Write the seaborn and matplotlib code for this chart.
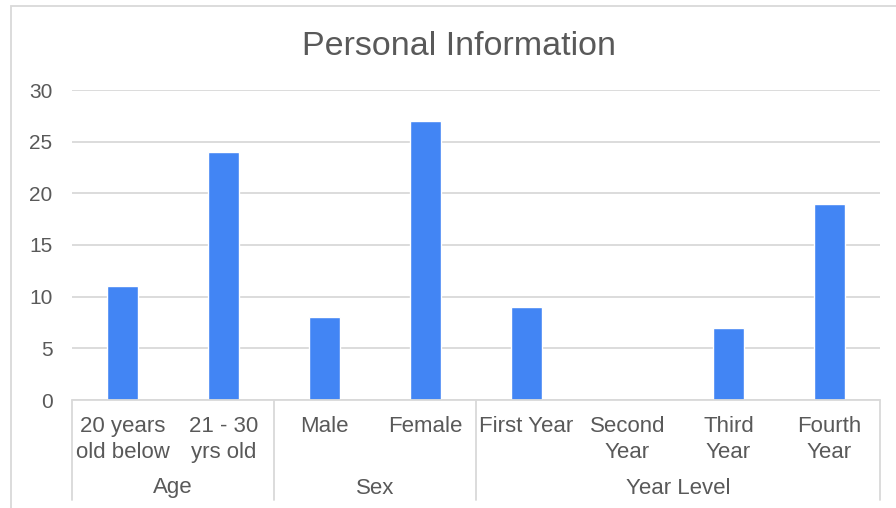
import matplotlib
matplotlib.use("Agg")
import matplotlib.pyplot as plt
import matplotlib.transforms as mtransforms
from matplotlib.patches import Rectangle
import seaborn as sns
import pandas as pd

categories = ["20 years\nold below", "21 - 30\nyrs old", "Male", "Female",
              "First Year", "Second\nYear", "Third\nYear", "Fourth\nYear"]
values = [11, 24, 8, 27, 9, 0, 7, 19]
groups = ["Age", "Sex", "Year Level"]
group_sizes = [2, 2, 4]
yticks = [0, 5, 10, 15, 20, 25, 30]

sns.set_theme(style="white")
plt.rcParams['font.family'] = ['Liberation Sans', 'DejaVu Sans']

text_color = "#595959"
grid_color = "#D9D9D9"
bar_color = "#4285F4"

W, H = 896, 508
fig = plt.figure(figsize=(W / 100, H / 100), dpi=100)
ax = fig.add_axes([72 / W, 1 - 400 / H, (880 - 72) / W, (400 - 90) / H])

df = pd.DataFrame({"cat": categories, "val": values})
sns.barplot(data=df, x="cat", y="val", order=categories, color=bar_color,
            saturation=1, width=0.315, ax=ax)

ax.set_xlim(-0.5, len(categories) - 0.5)
ax.set_ylim(0, 30)
ax.set_yticks(yticks)
ax.set_yticklabels([str(t) for t in yticks], fontsize=15, color=text_color)
ax.tick_params(axis="y", length=0, pad=14)
ax.set_xticks([])
ax.set_xlabel("")
ax.set_ylabel("")
for s in ax.spines.values():
    s.set_visible(False)
ax.yaxis.grid(True, color=grid_color, linewidth=1.3)
ax.set_axisbelow(True)

# Multi-level category axis
trans = mtransforms.blended_transform_factory(ax.transData, fig.transFigure)
y0 = 1 - 400 / H
ybot = 1 - 500 / H
ax.plot([-0.5, len(categories) - 0.5], [y0, y0], transform=trans, color=grid_color,
        lw=1.3, clip_on=False)
bounds = [-0.5]
for n in group_sizes:
    bounds.append(bounds[-1] + n)
for b in bounds:
    ax.plot([b, b], [y0, ybot], transform=trans, color=grid_color, lw=1.3, clip_on=False)

for i, c in enumerate(categories):
    ax.text(i, 1 - 416 / H, c, transform=trans, ha="center", va="top",
            fontsize=16, color=text_color, linespacing=1.3)

for g, a, b in zip(groups, bounds[:-1], bounds[1:]):
    ax.text((a + b) / 2, 1 - 488 / H, g, transform=trans, ha="center", va="center",
            fontsize=16, color=text_color)

fig.text(459 / W, 1 - 55 / H, "Personal Information", ha="center", va="baseline",
         fontsize=24.5, color=text_color)

# chart border (partially cropped in the reference)
fig.add_artist(Rectangle((11 / W, -0.1), 1.2, 1.1 - 6 / H, transform=fig.transFigure,
                         fill=False, edgecolor=grid_color, lw=1.3))

fig.savefig("out.png", dpi=100)
